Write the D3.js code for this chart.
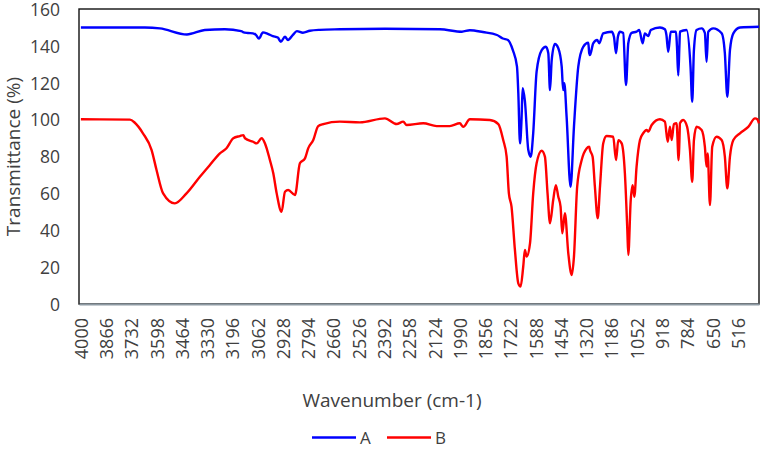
<!DOCTYPE html>
<html lang="en">
<head>
    <meta charset="utf-8">
    <title>FTIR spectra A and B</title>
    <script src="https://d3js.org/d3.v7.min.js"></script>
    <style>
        body {
            margin: 0;
            background: #fff;
            font-family: "Open Sans", sans-serif;
        }
        .axis text {
            fill: #404040;
            font-size: 17.5px;
            font-family: "Open Sans", sans-serif;
        }
        .x-axis text {
            font-size: 18px;
        }
        .title {
            fill: #404040;
            font-size: 19px;
        }
        .legend text {
            fill: #404040;
            font-size: 17px;
        }
    </style>
</head>
<body>
<svg id="chart"></svg>
<script>
    // series A (offset spectrum), wavenumber in cm-1 and transmittance in %
    const aWave = [4000, 3661, 3581, 3438, 3343, 3237, 3150, 3141, 3115, 3088, 3072, 3056, 3035, 3009, 2982,
        2956, 2940, 2918, 2902, 2876, 2855, 2823, 2786, 2733, 2627, 2388, 2097, 1980, 1938, 1869, 1794, 1763,
        1736, 1710, 1688, 1681, 1672, 1664, 1658, 1646, 1628, 1615, 1602, 1584, 1557, 1535, 1522, 1513, 1504,
        1487, 1469, 1451, 1443, 1437, 1425, 1404, 1386, 1363, 1337, 1310, 1305, 1301, 1284, 1263, 1252, 1231,
        1186, 1174, 1163, 1153, 1142, 1125, 1110, 1098, 1080, 1054, 1040, 1022, 1010, 992, 979, 930, 904, 896,
        886, 873, 845, 840, 833, 827, 824, 789, 768, 759, 750, 736, 709, 692, 683, 674, 648, 603, 586, 573,
        559, 541, 506, 405];
    const aT = [150, 150, 149.5, 146.2, 148.6, 149, 148, 147.5, 147, 146.8, 146, 144, 147.3, 146.5, 145.3,
        144.5, 142.2, 145, 143.2, 146, 148, 147.1, 148.2, 148.7, 149, 149.3, 149, 147.7, 148.5, 147.5, 145.9, 144,
        143.2, 137.7, 128.7, 114.4, 87.1, 100, 117, 110, 83.5, 79.9, 92.7, 126, 137.7, 139.5, 136, 116, 132.3,
        141, 138.7, 128.7, 116, 119.7, 101.6, 63.6, 96.1, 128.7, 139.5, 141.7, 136, 135, 141.4, 143.2, 141.4, 146.8,
        147.7, 145, 136, 145, 147.7, 147, 118.8, 141.4, 147.1, 147.7, 148.6, 141.4, 146.8, 145.3, 148.6, 150, 149, 146,
        136.8, 147.7, 147.7, 140, 124, 140, 147.7, 148.6, 128.7, 109.7, 137.7, 148.6, 149.5, 147, 131.4, 147.7, 149.5, 146.8, 136, 112.4,
        137.7, 146.8, 150, 150.4];

    // series B
    const bWave = [4000, 3740, 3714, 3671, 3625, 3599, 3564, 3502, 3440, 3369, 3316, 3263, 3228, 3192, 3157,
        3139, 3130, 3087, 3068, 3042, 3024, 2998, 2980, 2962, 2936, 2918, 2901, 2865, 2839, 2812, 2795, 2768,
        2742, 2715, 2627, 2521, 2388, 2326, 2291, 2273, 2185, 2114, 2044, 1991, 1973, 1938, 1832, 1787, 1761,
        1743, 1731, 1717, 1699, 1681, 1669, 1655, 1646, 1637, 1619, 1602, 1584, 1557, 1540, 1526, 1513, 1496,
        1482, 1469, 1457, 1448, 1434, 1416, 1398, 1386, 1369, 1345, 1319, 1305, 1301, 1287, 1275, 1260, 1248,
        1231, 1213, 1178, 1163, 1151, 1133, 1116, 1103, 1098, 1085, 1075, 1066, 1054, 1036, 1019, 1001, 992, 974,
        930, 904, 889, 877, 868, 856, 842, 831, 827, 824, 807, 786, 771, 759, 750, 736, 709, 692, 683, 677, 665,
        653, 630, 603, 586, 573, 559, 541, 506, 462, 426, 414, 405];
    const bT = [100.2, 100, 98.3, 92.6, 83.5, 72.7, 60, 54.6, 60, 69, 75.4, 81.7, 84.5, 89.9, 91.1,
        91.6, 89.9, 88, 87.1, 89.9, 87.1, 78.1, 70.9, 60, 50, 60.9, 61.8, 59.1, 76.3, 79, 84.4, 88.9,
        96.5, 97.6, 98.9, 98.5, 100.7, 97.6, 98.9, 97.1, 98, 96.5, 96.5, 98, 96.1, 100.2, 99.8, 97.6, 88.9,
        79.9, 60, 52.8, 29.3, 11.2, 9.4, 20.2, 29.3, 25.7, 32.9, 60, 76.3, 83.1, 79.9, 60, 43.8, 56.4,
        64.5, 58.2, 52.8, 38.3, 49.2, 27.5, 15.7, 25.7, 63.6, 78.1, 84.4, 85.3, 83.5, 79.9, 63.6, 46.5, 63.6,
        87.1, 91.1, 90.7, 78.1, 88.9, 87.1, 70.9, 40, 26.6, 56.4, 64.5, 58.2, 74.5, 88.9, 92.6, 94.4, 93.5, 97.1,
        100.2, 98.9, 88, 96.1, 88.9, 97.6, 98, 78, 88, 98, 99.8, 96.1, 83.5, 66.3, 88.9, 96.1, 94.4, 85.3, 74.5, 81.7, 53.7,
        85.3, 90.7, 88.9, 79.9, 62.7, 79.9, 88.9, 92.6, 96.1, 100.7, 100.2, 98];

    const xTicks = [4000, 3866, 3732, 3598, 3464, 3330, 3196, 3062, 2928, 2794, 2660, 2526, 2392, 2258,
        2124, 1990, 1856, 1722, 1588, 1454, 1320, 1186, 1052, 918, 784, 650, 516];
    const yTicks = [0, 20, 40, 60, 80, 100, 120, 140, 160];

    const series = [
        { name: "A", color: "#0000ff", wave: aWave, t: aT },
        { name: "B", color: "#ff0000", wave: bWave, t: bT }
    ];

    const width = 762;
    const height = 449;
    const margin = { left: 79, right: 3, top: 9, bottom: 145 };

    const svg = d3.select("#chart")
        .attr("width", width)
        .attr("height", height);

    const x = d3.scaleLinear()
        .domain([4010, 405])
        .range([margin.left, width - margin.right]);

    const y = d3.scaleLinear()
        .domain([0, 160])
        .range([height - margin.bottom, margin.top]);

    // plot frame
    svg.append("rect")
        .attr("x", x.range()[0])
        .attr("y", y.range()[1])
        .attr("width", x.range()[1] - x.range()[0])
        .attr("height", y.range()[0] - y.range()[1])
        .attr("fill", "none")
        .attr("stroke", "#111")
        .attr("stroke-width", 1.4);

    const line = d3.line()
        .x(d => x(d[0]))
        .y(d => y(d[1]))
        .curve(d3.curveMonotoneX);

    series.forEach(s => {
        svg.append("path")
            .datum(s.wave.map((w, i) => [w, s.t[i]]))
            .attr("fill", "none")
            .attr("stroke", s.color)
            .attr("stroke-width", 2.4)
            .attr("stroke-linejoin", "round")
            .attr("d", line);
    });

    const xAxis = svg.append("g")
        .attr("class", "axis x-axis")
        .attr("transform", `translate(0,${y(0)})`)
        .call(d3.axisBottom(x).tickValues(xTicks).tickSize(0).tickFormat(d3.format("d")));
    xAxis.select(".domain")
        .attr("stroke", "#8d9aa3")
        .attr("stroke-width", 2);
    xAxis.selectAll("text")
        .attr("transform", "rotate(-90)")
        .attr("x", -14)
        .attr("y", 0)
        .attr("dy", "0.35em")
        .attr("text-anchor", "end");

    const yAxis = svg.append("g")
        .attr("class", "axis")
        .attr("transform", `translate(${x.range()[0]},0)`)
        .call(d3.axisLeft(y).tickValues(yTicks).tickSize(0).tickPadding(19));
    yAxis.select(".domain").remove();
    yAxis.selectAll("text").attr("dy", "0.36em");

    svg.append("text")
        .attr("class", "title")
        .attr("transform", `translate(20,${(y.range()[0] + y.range()[1]) / 2}) rotate(-90)`)
        .attr("text-anchor", "middle")
        .text("Transmittance (%)");

    svg.append("text")
        .attr("class", "title")
        .attr("x", 392)
        .attr("y", 407)
        .attr("text-anchor", "middle")
        .text("Wavenumber (cm-1)");

    // legend
    const legend = svg.append("g").attr("class", "legend");
    const legendX = [312, 387];
    series.forEach((s, i) => {
        const g = legend.append("g").attr("transform", `translate(${legendX[i]},437.5)`);
        g.append("line")
            .attr("x1", 0).attr("x2", 44)
            .attr("stroke", s.color)
            .attr("stroke-width", 2.4);
        g.append("text")
            .attr("x", 48)
            .attr("dy", "0.36em")
            .text(s.name);
    });
</script>
</body>
</html>
